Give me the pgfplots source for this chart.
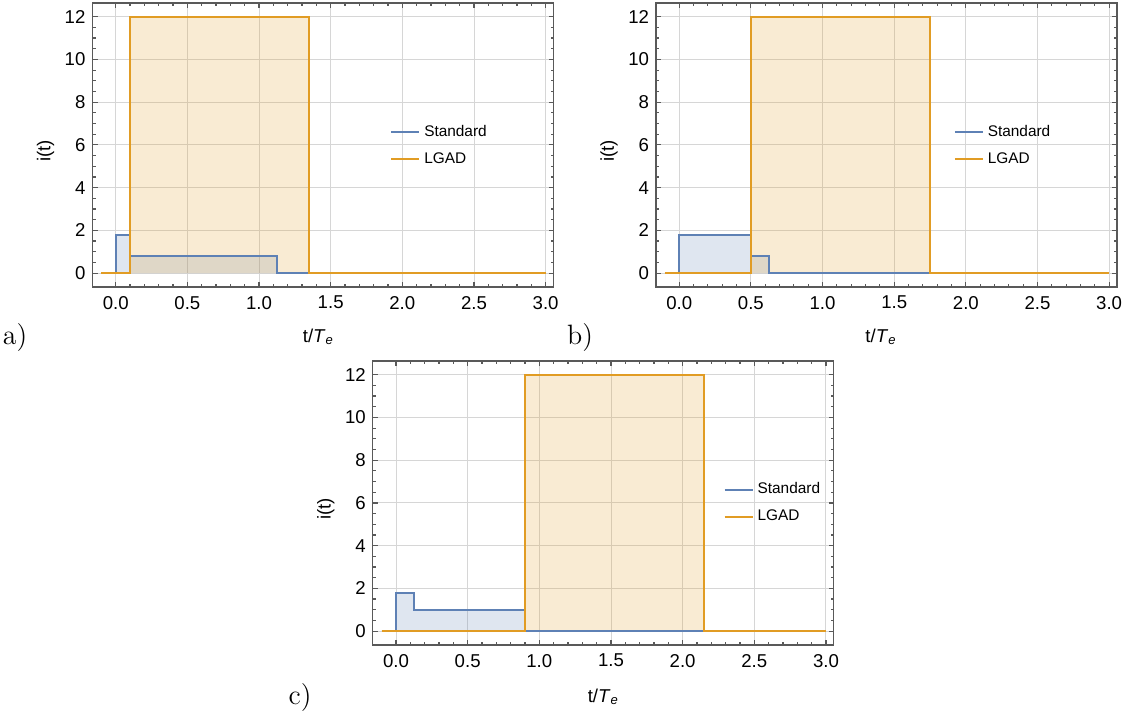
\documentclass[border=0pt]{standalone}
\usepackage{fontspec}
\newfontfamily\arialfont{Liberation Sans}
\usepackage{pgfplots}
\pgfplotsset{compat=1.18}
\definecolor{mblue}{rgb}{0.368417,0.506779,0.709798}
\definecolor{morange}{rgb}{0.880722,0.611041,0.142051}
\definecolor{framegray}{gray}{0.35}
\definecolor{gridgray}{gray}{0.84}

\pgfplotsset{
 panel/.style={
  scale only axis, width=230.5pt, height=142pt,
  xmin=-0.162, xmax=3.055, ymin=-0.65, ymax=12.64,
  xtick={0,0.5,1,1.5,2,2.5,3}, ytick={0,2,4,6,8,10,12},
  minor x tick num=4, minor y tick num=3,
  xmajorgrids, ymajorgrids,
  major grid style={gridgray, line width=0.45pt},
  axis line style={framegray, line width=0.6pt},
  every tick/.style={framegray, line width=0.6pt},
  major tick length=2.5pt, minor tick length=1.5pt,
  tick align=inside,
  /pgf/number format/assume math mode=true,
  tick label style={font=\arialfont\fontsize{9.3}{11}\selectfont, black},
  xticklabel style={/pgf/number format/fixed, /pgf/number format/fixed zerofill, /pgf/number format/precision=1, yshift=-1pt},
  ylabel={i(t)},
  xlabel={t/\textit{T}\textsubscript{\textit{e}}},
  label style={font=\arialfont\fontsize{9.3}{11}\selectfont},
  ylabel style={at={(axis description cs:-0.102,0.48)}, anchor=center},
  legend image code/.code={\draw[#1] (0pt,0pt) -- (14pt,0pt);},
  legend style={draw=none, fill=none, inner sep=0pt, row sep=2.5pt,
    font=\arialfont\fontsize{7.7}{9}\selectfont},
  legend cell align=left,
 },
 fillS/.style={forget plot, fill=mblue, fill opacity=0.2, draw=none},
 fillL/.style={forget plot, fill=morange, fill opacity=0.2, draw=none},
 lineS/.style={mblue, line width=1pt},
 lineL/.style={morange, line width=1pt},
}

\begin{document}
\begin{tikzpicture}
\path[use as bounding box] (0,0) rectangle (563.5pt,-358.5pt);

% ---------- a)
\begin{axis}[panel, at={(46.25pt,-143.5pt)}, anchor=south west,
  xlabel style={at={(axis description cs:0.49,-0.176)}, anchor=center},
  legend style={at={(axis description cs:0.645,0.497)}, anchor=west}]
\addplot[fillS] coordinates {(-0.1,0) (0,0) (0,1.8) (0.1,1.8) (0.1,0.8) (1.125,0.8) (1.125,0) (3,0)};
\addplot[fillL] coordinates {(-0.1,0) (0.1,0) (0.1,12) (1.35,12) (1.35,0) (3,0)};
\addplot[lineS] coordinates {(-0.1,0) (0,0) (0,1.8) (0.1,1.8) (0.1,0.8) (1.125,0.8) (1.125,0) (3,0)};
\addplot[lineL] coordinates {(-0.1,0) (0.1,0) (0.1,12) (1.35,12) (1.35,0) (3,0)};
\legend{Standard, LGAD}
\end{axis}

% ---------- b)
\begin{axis}[panel, at={(328pt,-143.5pt)}, anchor=south west,
  xlabel style={at={(axis description cs:0.488,-0.176)}, anchor=center},
  legend style={at={(axis description cs:0.645,0.497)}, anchor=west}]
\addplot[fillS] coordinates {(-0.1,0) (0,0) (0,1.8) (0.5,1.8) (0.5,0.8) (0.625,0.8) (0.625,0) (3,0)};
\addplot[fillL] coordinates {(-0.1,0) (0.5,0) (0.5,12) (1.75,12) (1.75,0) (3,0)};
\addplot[lineS] coordinates {(-0.1,0) (0,0) (0,1.8) (0.5,1.8) (0.5,0.8) (0.625,0.8) (0.625,0) (3,0)};
\addplot[lineL] coordinates {(-0.1,0) (0.5,0) (0.5,12) (1.75,12) (1.75,0) (3,0)};
\legend{Standard, LGAD}
\end{axis}

% ---------- c)
\begin{axis}[panel, at={(186.4pt,-322.5pt)}, anchor=south west,
  xlabel style={at={(axis description cs:0.5,-0.183)}, anchor=center},
  legend style={at={(axis description cs:0.76,0.5)}, anchor=west}]
\addplot[fillS] coordinates {(-0.1,0) (0,0) (0,1.8) (0.125,1.8) (0.125,1.0) (0.9,1.0) (0.9,0) (3,0)};
\addplot[fillL] coordinates {(-0.1,0) (0.9,0) (0.9,12) (2.15,12) (2.15,0) (3,0)};
\addplot[lineS] coordinates {(-0.1,0) (0,0) (0,1.8) (0.125,1.8) (0.125,1.0) (0.9,1.0) (0.9,0) (3,0)};
\addplot[lineL] coordinates {(-0.1,0) (0.9,0) (0.9,12) (2.15,12) (2.15,0) (3,0)};
\legend{Standard, LGAD}
\end{axis}

\node[font=\fontsize{14}{16}\selectfont] at (7.5pt,-169pt) {a)};
\node[font=\fontsize{14}{16}\selectfont] at (290pt,-169pt) {b)};
\node[font=\fontsize{14}{16}\selectfont] at (150pt,-349pt) {c)};
\end{tikzpicture}
\end{document}
